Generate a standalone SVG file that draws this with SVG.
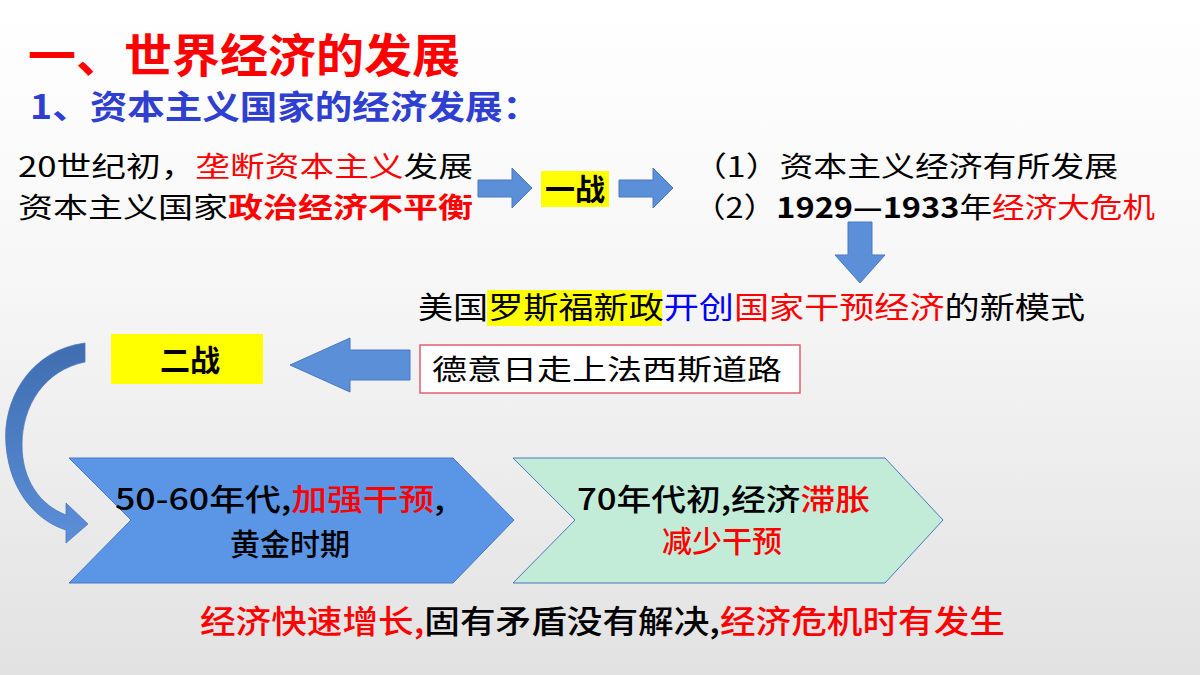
<svg xmlns="http://www.w3.org/2000/svg" width="1200" height="675" viewBox="0 0 1200 675">
<defs>
<linearGradient id="bg" x1="0" y1="0" x2="0" y2="1"><stop offset="0" stop-color="#ffffff"/><stop offset="0.4" stop-color="#f7f7f7"/><stop offset="1" stop-color="#e2e2e2"/></linearGradient>
<linearGradient id="cv" x1="0" y1="0" x2="0" y2="1"><stop offset="0" stop-color="#3f6db0"/><stop offset="1" stop-color="#5b8fd8"/></linearGradient>
<style>
text{font-family:"Noto Sans CJK SC","Liberation Sans",sans-serif}
.b{font-weight:bold}
.m{font-weight:500}
.r{fill:#ff0000}
.arr{fill:#5b8fd8;stroke:#4a78c0;stroke-width:1}
.hl{fill:#ffff00}
</style>
</defs>
<rect width="1200" height="675" fill="url(#bg)"/>
<text x="28" y="72" font-size="46" class="b r" textLength="432" lengthAdjust="spacingAndGlyphs">一、世界经济的发展</text>
<text x="30" y="119" font-size="33" class="b" fill="#2f3fd0" textLength="510" lengthAdjust="spacingAndGlyphs">1、资本主义国家的经济发展：</text>

<g id="cause">
<text x="18" y="177" font-size="28" textLength="455" lengthAdjust="spacingAndGlyphs"><tspan>20世纪初，</tspan><tspan class="r">垄断资本主义</tspan><tspan>发展</tspan></text>
<text x="18" y="218" font-size="28" textLength="455" lengthAdjust="spacingAndGlyphs"><tspan>资本主义国家</tspan><tspan class="r" font-weight="bold">政治经济不平衡</tspan></text>
</g>
<g id="ww1"><rect x="541" y="171" width="68" height="36" class="hl"/><text x="575" y="200" font-size="30" class="b" text-anchor="middle">一战</text></g>
<g id="results">
<text x="693" y="177" font-size="28" textLength="425" lengthAdjust="spacingAndGlyphs">（1）资本主义经济有所发展</text>
<text x="693" y="218" font-size="28" textLength="462" lengthAdjust="spacingAndGlyphs"><tspan>（2）</tspan><tspan font-weight="bold">1929—1933</tspan><tspan>年</tspan><tspan class="r">经济大危机</tspan></text>
</g>
<g id="newdeal">
<rect x="487" y="290" width="175" height="36" class="hl"/>
<text x="418" y="318" font-size="30" textLength="667" lengthAdjust="spacingAndGlyphs"><tspan>美国罗斯福新政</tspan><tspan fill="#0000ff">开创</tspan><tspan class="r">国家干预经济</tspan><tspan>的新模式</tspan></text>
</g>
<g id="fascism">
<rect x="420" y="345" width="380" height="48" fill="#fff" stroke="#e06070" stroke-width="1.5"/>
<text x="432" y="380" font-size="28" textLength="350" lengthAdjust="spacingAndGlyphs">德意日走上法西斯道路</text>
</g>
<g id="ww2"><rect x="111" y="334" width="152" height="50" class="hl"/><text x="190" y="371" font-size="30" class="b" text-anchor="middle">二战</text></g>
<g id="stage1">
<polygon points="69,458 453,458 514,520 453,583 69,583 131,520" fill="#5b96e6" stroke="#4a78c0"/>
<text x="115" y="510" font-size="30" class="m" textLength="330" lengthAdjust="spacingAndGlyphs"><tspan>50-60年代,</tspan><tspan class="r">加强干预</tspan><tspan>,</tspan></text>
<text x="290" y="555" font-size="30" class="m" text-anchor="middle">黄金时期</text>
</g>
<g id="stage2">
<polygon points="513,458 885,458 943,520 885,583 513,583 575,520" fill="#c3ecd8" stroke="#4a78c0"/>
<text x="577" y="510" font-size="30" class="m" textLength="293" lengthAdjust="spacingAndGlyphs"><tspan>70年代初,经济</tspan><tspan class="r">滞胀</tspan></text>
<text x="722" y="552" font-size="30" class="m r" text-anchor="middle">减少干预</text>
</g>
<g id="summary">
<text x="200" y="633" font-size="32" class="m" textLength="805" lengthAdjust="spacingAndGlyphs"><tspan class="r">经济快速增长,</tspan><tspan>固有矛盾没有解决,</tspan><tspan class="r">经济危机时有发生</tspan></text>
</g>
<g id="connectors">
<polygon class="arr" points="478,180 512,180 512,168 532,188 512,208 512,197 478,197"/>
<polygon class="arr" points="619,180 653,180 653,168 673,188 653,208 653,197 619,197"/>
<polygon class="arr" points="848,222 872,222 872,255 885,255 860,283 835,255 848,255"/>
<polygon class="arr" points="410,350 350,350 350,338 290,365 350,392 350,380 410,380"/>
<path fill="url(#cv)" stroke="#4a78c0" stroke-width="0.8" d="M85,343 C30,350 2,400 6,445 C10,495 40,522 66,530 L66,543 L88,524 L66,503 L66,515 C40,505 22,480 22,445 C22,405 45,370 85,362 Z"/>
</g>
</svg>
